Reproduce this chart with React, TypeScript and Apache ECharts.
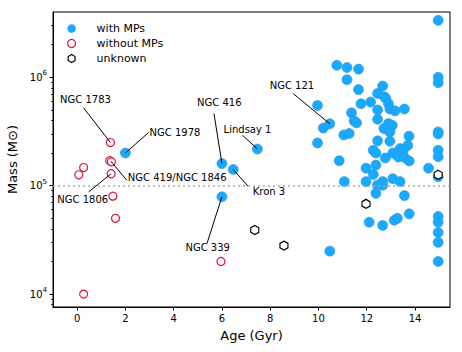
import React, { useEffect, useRef } from "react";
import * as echarts from "echarts";

// ---- data ----
const withMPsAge = [
  2.0, 6.0, 6.47, 6.0, 7.47, 10.47, 14.96, 10.76, 11.18, 11.66, 11.18, 14.96, 14.96, 11.66, 12.66,
  12.45, 12.73, 12.79, 11.76, 12.16, 12.9, 12.96, 13.17, 13.56, 12.45, 9.96, 11.37, 12.45, 11.48,
  11.58, 10.2, 12.9, 13.06, 12.71, 12.96, 11.05, 11.27, 14.96, 14.96, 13.75, 9.96, 12.45, 12.96,
  13.7, 12.27, 12.38, 14.96, 14.96, 10.86, 12.77, 13.08, 13.38, 13.52, 13.31, 13.56, 13.76, 11.07,
  11.97, 11.97, 12.27, 12.38, 12.66, 12.66, 12.44, 12.38, 13.08, 13.38, 13.56, 14.56, 14.96, 12.1,
  12.66, 13.14, 13.27, 13.76, 14.96, 14.96, 14.96, 14.96, 14.96, 10.47,
];
const withMPsMass = [
  2.0e5, 1.6e5, 1.41e5, 7.9e4, 2.18e5, 3.72e5, 3.35e6, 1.29e6, 1.23e6, 1.19e6, 9.5e5, 1.0e6, 8.9e5,
  7.7e5, 8.3e5, 7.1e5, 6.6e5, 6.4e5, 5.7e5, 5.9e5, 5.7e5, 5.1e5, 4.9e5, 5.1e5, 5.0e5, 5.5e5,
  4.7e5, 4.1e5, 3.96e5, 3.8e5, 3.4e5, 3.74e5, 3.6e5, 3.37e5, 3.13e5, 2.94e5, 3.03e5, 3.13e5,
  3.0e5, 2.86e5, 2.48e5, 2.59e5, 2.57e5, 2.35e5, 2.12e5, 2.0e5, 2.12e5, 1.85e5, 1.7e5, 1.8e5,
  2.0e5, 2.2e5, 2.12e5, 1.84e5, 1.82e5, 1.69e5, 1.09e5, 1.45e5, 1.09e5, 1.27e5, 1.55e5, 1.09e5,
  1.01e5, 1.01e5, 8.5e4, 1.16e5, 1.09e5, 8.1e4, 1.45e5, 1.21e5, 4.6e4, 4.3e4, 4.8e4, 5.0e4, 5.5e4,
  5.2e4, 4.6e4, 3.7e4, 3.0e4, 2.0e4, 2.49e4,
];
const withoutMPsAge = [1.38, 1.35, 1.42, 1.41, 0.07, 0.27, 1.48, 1.59, 0.27, 5.96];
const withoutMPsMass = [2.5e5, 1.7e5, 1.66e5, 1.29e5, 1.26e5, 1.47e5, 8.0e4, 5.0e4, 1.0e4, 2.0e4];
const unknownAge = [7.36, 8.57, 11.97, 14.96];
const unknownMass = [3.9e4, 2.8e4, 6.8e4, 1.26e5];

const xTickValues = [0, 2, 4, 6, 8, 10, 12, 14];
const yTickValues = [1e4, 1e5, 1e6];
const yMinorTickValues = [
  8e3, 9e3, 2e4, 3e4, 4e4, 5e4, 6e4, 7e4, 8e4, 9e4, 2e5, 3e5, 4e5, 5e5, 6e5, 7e5, 8e5, 9e5, 2e6, 3e6,
];
const referenceMass = 1e5;

// annotation: label, point (age, mass), line start (age, mass), text anchor (age, mass), align
const annotLabels = [
  "NGC 1783", "NGC 1978", "NGC 419/NGC 1846", "NGC 1806", "NGC 416", "Lindsay 1", "Kron 3", "NGC 339", "NGC 121",
];
const annotPointAge = [1.38, 2.0, 1.4, 1.41, 6.0, 7.47, 6.47, 6.0, 10.47];
const annotPointMass = [2.5e5, 2.0e5, 1.68e5, 1.29e5, 1.6e5, 2.18e5, 1.41e5, 7.9e4, 3.72e5];
const annotLineAge = [0.27, 2.96, 2.06, 0.48, 5.67, 6.85, 7.08, 5.38, 8.95];
const annotLineMass = [5.21e5, 3.09e5, 1.12e5, 8.77e4, 4.62e5, 2.92e5, 9.9e4, 2.93e4, 7.08e5];
const annotTextAge = [0.345, 3.0, 2.1, 0.23, 5.89, 7.06, 7.95, 5.41, 8.9];
const annotTextMass = [6.22e5, 3.09e5, 1.18e5, 7.51e4, 5.84e5, 3.3e5, 8.89e4, 2.67e4, 8.38e5];
const annotAlign = ["center", "left", "left", "center", "center", "center", "center", "center", "center"];

const FONT = '"DejaVu Sans", Verdana, sans-serif';
const BLUE = "#17aafe";
const BLUE_EDGE = "#2f90e6";
const RED = "#dc143c";
const HEX = "path://M0,-1L0.866,-0.5L0.866,0.5L0,1L-0.866,0.5L-0.866,-0.5Z";

const zip = (a: number[], b: number[]) => a.map((v, i) => [v, b[i]]);

export default function App() {
  const ref = useRef<HTMLDivElement>(null);
  useEffect(() => {
    if (!ref.current) return;
    const chart = echarts.init(ref.current, null, { renderer: "svg" });
    const yLogAxisBase = {
      type: "log",
      logBase: 10,
      min: 7600,
      max: 4.0e6,
      gridIndex: 0,
      position: "left",
      splitLine: { show: false },
    };
    chart.setOption({
      animation: false,
      backgroundColor: "#fff",
      textStyle: { fontFamily: FONT },
      grid: {
        left: 53,
        right: 12,
        top: 12,
        bottom: 45,
        show: true,
        borderColor: "#000",
        borderWidth: 1,
        backgroundColor: "transparent",
        containLabel: false,
        outerBoundsMode: "none",
      },
      legend: {
        orient: "vertical",
        left: 62,
        top: 18,
        itemWidth: 8,
        itemHeight: 8,
        itemGap: 4,
        selectedMode: false,
        textStyle: { fontSize: 11, color: "#000", fontFamily: FONT, padding: [0, 0, 0, 16] },
        data: [
          { name: "with MPs", itemStyle: { color: BLUE, borderColor: BLUE_EDGE, borderWidth: 0.5 } },
          { name: "without MPs", itemStyle: { color: "#fff", borderColor: RED, borderWidth: 1.2 } },
          { name: "unknown", itemStyle: { color: "#fff", borderColor: "#000", borderWidth: 1.2 } },
        ],
      },
      xAxis: {
        type: "value",
        min: -1,
        max: 15.45,
        name: "Age (Gyr)",
        nameLocation: "middle",
        nameGap: 22,
        nameTextStyle: { fontSize: 13, color: "#000", fontFamily: FONT },
        axisLine: { show: true, onZero: false, lineStyle: { color: "#000", width: 1 } },
        axisTick: { show: true, length: 3.5, customValues: xTickValues, lineStyle: { color: "#000" } },
        axisLabel: { customValues: xTickValues, fontSize: 10, color: "#000", margin: 6, fontFamily: FONT },
        splitLine: { show: false },
      },
      yAxis: [
        {
          ...yLogAxisBase,
          name: "Mass (M\u2299)",
          nameLocation: "middle",
          nameGap: 34,
          nameTextStyle: { fontSize: 13, color: "#000", fontFamily: FONT },
          axisLine: { show: true, onZero: false, lineStyle: { color: "#000", width: 1 } },
          axisTick: { show: true, length: 3.5, customValues: yTickValues, lineStyle: { color: "#000" } },
          axisLabel: {
            customValues: yTickValues,
            margin: 6,
            color: "#000",
            fontFamily: FONT,
            formatter: (v: number) => `{b|10}{s|${Math.round(Math.log10(v))}}`,
            rich: {
              b: { fontSize: 10, color: "#000", fontFamily: FONT },
              s: { fontSize: 7, color: "#000", fontFamily: FONT, padding: [0, 0, 8, 0] },
            },
          },
        },
        {
          ...yLogAxisBase,
          axisLine: { show: false, onZero: false },
          axisLabel: { show: false },
          axisTick: { show: true, length: 2, customValues: yMinorTickValues, lineStyle: { color: "#000", width: 0.8 } },
        },
      ],
      series: [
        {
          type: "line",
          data: [],
          z: 1,
          silent: true,
          markLine: {
            silent: true,
            symbol: ["none", "none"],
            label: { show: false },
            lineStyle: { color: "#aaaaaa", type: [2, 3], width: 1.5 },
            data: [{ yAxis: referenceMass }],
          },
        },
        {
          name: "with MPs",
          type: "scatter",
          z: 2,
          symbol: "circle",
          symbolSize: 10,
          itemStyle: { color: BLUE, borderColor: BLUE_EDGE, borderWidth: 0.6, opacity: 1 },
          emphasis: { disabled: true },
          data: zip(withMPsAge, withMPsMass),
        },
        {
          name: "without MPs",
          type: "scatter",
          z: 2,
          symbol: "circle",
          symbolSize: 8,
          itemStyle: { color: "#fff", borderColor: RED, borderWidth: 1.2, opacity: 1 },
          emphasis: { disabled: true },
          data: zip(withoutMPsAge, withoutMPsMass),
        },
        {
          name: "unknown",
          type: "scatter",
          z: 3,
          symbol: HEX,
          symbolSize: [8, 9],
          symbolKeepAspect: false,
          itemStyle: { color: "#fff", borderColor: "#000", borderWidth: 1.2, opacity: 1 },
          emphasis: { disabled: true },
          data: zip(unknownAge, unknownMass),
        },
        {
          type: "custom",
          z: 4,
          silent: true,
          clip: false,
          encode: { x: 0, y: 1 },
          data: zip(annotPointAge, annotPointMass),
          renderItem: (params: any, api: any) => {
            const i = params.dataIndex;
            const p = api.coord([annotPointAge[i], annotPointMass[i]]);
            const s = api.coord([annotLineAge[i], annotLineMass[i]]);
            const t = api.coord([annotTextAge[i], annotTextMass[i]]);
            return {
              type: "group",
              children: [
                {
                  type: "line",
                  shape: { x1: s[0], y1: s[1], x2: p[0], y2: p[1] },
                  style: { stroke: "#000", lineWidth: 1 },
                },
                {
                  type: "text",
                  x: t[0],
                  y: t[1],
                  style: {
                    text: annotLabels[i],
                    fill: "#000",
                    fontSize: 10,
                    fontFamily: FONT,
                    align: annotAlign[i],
                    verticalAlign: "middle",
                  },
                },
              ],
            };
          },
        },
      ],
    } as any);
    return () => chart.dispose();
  }, []);
  return (
    <div
      ref={ref}
      style={{ position: "fixed", left: 0, top: 0, width: 462, height: 352, background: "#fff" }}
    />
  );
}
